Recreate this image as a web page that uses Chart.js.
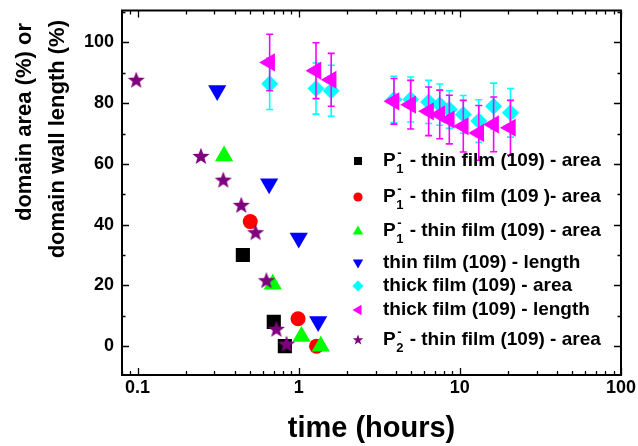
<!DOCTYPE html>
<html>
<head>
<meta charset="utf-8">
<script src="https://cdn.jsdelivr.net/npm/chart.js@4.4.0/dist/chart.umd.min.js"></script>
<style>
    html, body { margin: 0; padding: 0; background: #fff; }
    #wrap { width: 638px; height: 446px; }
</style>
</head>
<body>
<div id="wrap"><canvas id="chart" width="638" height="446"></canvas></div>
<script>
(function () {
    "use strict";

    // data (time in hours, values in %)
    var p1aTime = [0.45, 0.70, 0.82];
    var p1aVal = [30, 8, 0];

    var p1bTime = [0.50, 0.99, 1.29];
    var p1bVal = [41, 9, 0];

    var p1cTime = [0.344, 0.69, 1.04, 1.37];
    var p1cVal = [62.6, 20.4, 3.2, 0];

    var thinLenTime = [0.312, 0.655, 1.0, 1.32];
    var thinLenVal = [84.2, 53.5, 35.6, 8.1];

    var thickTime = [0.66, 1.28, 1.59, 3.9, 4.95, 6.4, 7.5, 8.6, 10.5, 13.1, 16.2, 20.6];
    var thickAreaVal = [86.4, 84.8, 84.1, 81.2, 81.2, 80.4, 79.5, 77.9, 76.3, 74.1, 79, 76.8];
    var thickAreaErr = [8.5, 8.4, 8.4, 7.6, 7.4, 7.1, 6.8, 6.2, 6.2, 7, 7.6, 8];
    var thickLenVal = [93.4, 90.7, 87.7, 80.6, 79.5, 77.3, 76.3, 74.6, 72.4, 70.2, 73, 71.9];
    var thickLenErr = [9.3, 9.2, 8.7, 7.5, 8, 8, 8, 8, 8.5, 9, 9, 9];

    var p2Time = [0.098, 0.247, 0.34, 0.44, 0.54, 0.63, 0.727, 0.84];
    var p2Val = [87.7, 62.6, 54.8, 46.5, 37.5, 21.7, 5.7, 0.8];

    var xTicks = [0.1, 1, 10, 100];
    var yTicks = [0, 20, 40, 60, 80, 100];

    function pts(xs, ys) {
        return xs.map(function (v, i) { return { x: v, y: ys[i] }; });
    }

    function starPath(g, cx, cy, r, ri) {
        g.beginPath();
        for (var k = 0; k < 10; k++) {
            var rr = k % 2 ? ri : r;
            var a = -Math.PI / 2 + k * Math.PI / 5;
            var px = cx + rr * Math.cos(a), py = cy + rr * Math.sin(a);
            if (k === 0) g.moveTo(px, py); else g.lineTo(px, py);
        }
        g.closePath();
    }

    function makeStar(r, color) {
        var c = document.createElement('canvas');
        var s = Math.ceil(r * 2) + 2;
        c.width = s; c.height = s;
        var g = c.getContext('2d');
        starPath(g, s / 2, s / 2 + 0.8, r, r * 0.42);
        g.fillStyle = color;
        g.fill();
        return c;
    }

    var purple = '#7f007f';

    var series = [
        { label: 'area1', data: pts(p1aTime, p1aVal), color: '#000000', style: 'rect', radius: 10, rot: 0 },
        { label: 'area2', data: pts(p1bTime, p1bVal), color: '#ff0000', style: 'circle', radius: 7.5, rot: 0 },
        { label: 'area3', data: pts(p1cTime, p1cVal), color: '#00ff00', style: 'triangle', radius: 10.5, rot: 0 },
        { label: 'thinLen', data: pts(thinLenTime, thinLenVal), color: '#0000ff', style: 'triangle', radius: 10.5, rot: 180 },
        { label: 'thickArea', data: pts(thickTime, thickAreaVal), color: '#00ffff', style: 'rectRot', radius: 8.5, rot: 0, errors: thickAreaErr },
        { label: 'thickLen', data: pts(thickTime, thickLenVal), color: '#ff00ff', style: 'triangle', radius: 10.5, rot: 270, errors: thickLenErr },
        { label: 'p2', data: pts(p2Time, p2Val), color: purple, style: makeStar(9, purple), radius: 9, rot: 0 }
    ];

    var datasets = series.map(function (s, i) {
        return {
            label: s.label,
            data: s.data,
            pointStyle: s.style,
            pointRadius: s.radius,
            pointHoverRadius: s.radius,
            pointRotation: s.rot,
            backgroundColor: s.color,
            borderColor: s.color,
            borderWidth: 0,
            errors: s.errors,
            order: series.length - i
        };
    });

    // legend entries: sub/sup drawn as stacked small text after "P"
    var legendItems = [
        { sub: '1', text: ' - thin film (109) - area', y: 161 },
        { sub: '1', text: ' - thin film (109 )- area', y: 197 },
        { sub: '1', text: ' - thin film (109) - area', y: 231 },
        { text: 'thin film (109) - length', y: 263 },
        { text: 'thick film (109) - area', y: 286 },
        { text: 'thick film (109) - length', y: 310 },
        { sub: '2', text: ' - thin film (109) - area', y: 340 }
    ];

    function legendMarker(g, i, x, y) {
        var c = series[i].color;
        g.fillStyle = c;
        g.beginPath();
        if (i === 0) {
            g.rect(x - 4, y - 4, 8, 8);
        } else if (i === 1) {
            g.arc(x, y, 4.6, 0, Math.PI * 2);
        } else if (i === 2) {
            g.moveTo(x, y - 5.5); g.lineTo(x + 5.2, y + 3.5); g.lineTo(x - 5.2, y + 3.5);
        } else if (i === 3) {
            g.moveTo(x, y + 5.5); g.lineTo(x + 5.2, y - 3.5); g.lineTo(x - 5.2, y - 3.5);
        } else if (i === 4) {
            g.moveTo(x, y - 5.5); g.lineTo(x + 5.5, y); g.lineTo(x, y + 5.5); g.lineTo(x - 5.5, y);
        } else if (i === 5) {
            g.moveTo(x - 5.5, y); g.lineTo(x + 3.5, y - 5.2); g.lineTo(x + 3.5, y + 5.2);
        } else {
            starPath(g, x, y, 5.5, 2.3);
        }
        g.closePath();
        g.fill();
    }

    var errorBars = {
        id: 'errorBars',
        beforeDatasetDraw: function (chart, args) {
            var ds = chart.data.datasets[args.index];
            if (!ds.errors) return;
            var g = chart.ctx, xs = chart.scales.x, ys = chart.scales.y;
            g.save();
            g.strokeStyle = ds.borderColor;
            g.lineWidth = 1.6;
            ds.data.forEach(function (p, i) {
                var px = xs.getPixelForValue(p.x);
                var t = ys.getPixelForValue(p.y + ds.errors[i]);
                var b = ys.getPixelForValue(p.y - ds.errors[i]);
                g.beginPath();
                g.moveTo(px, t); g.lineTo(px, b);
                g.moveTo(px - 3.5, t); g.lineTo(px + 3.5, t);
                g.moveTo(px - 3.5, b); g.lineTo(px + 3.5, b);
                g.stroke();
            });
            g.restore();
        }
    };

    var frameAndExtras = {
        id: 'frameAndExtras',
        afterDraw: function (chart) {
            var g = chart.ctx, a = chart.chartArea;
            var xs = chart.scales.x, ys = chart.scales.y;
            g.save();
            g.strokeStyle = '#000';
            g.lineWidth = 2;
            g.strokeRect(a.left, a.top, a.right - a.left, a.bottom - a.top);

            // inward ticks on all four sides
            g.lineWidth = 1.3;
            g.beginPath();
            for (var e = -2; e <= 2; e++) {
                for (var k = 1; k <= 9; k++) {
                    var v = k * Math.pow(10, e);
                    if (v < xs.min || v > xs.max) continue;
                    var px = Math.round(xs.getPixelForValue(v)) + 0.5;
                    var len = k === 1 ? 7 : 4;
                    g.moveTo(px, a.bottom); g.lineTo(px, a.bottom - len);
                    g.moveTo(px, a.top); g.lineTo(px, a.top + len);
                }
            }
            for (var yv = 0; yv <= 110; yv += 10) {
                var py = Math.round(ys.getPixelForValue(yv)) + 0.5;
                var l2 = yv % 20 === 0 ? 7 : 3.5;
                g.moveTo(a.left, py); g.lineTo(a.left + l2, py);
                g.moveTo(a.right, py); g.lineTo(a.right - l2, py);
            }
            g.stroke();

            // y axis title, two lines
            g.fillStyle = '#000';
            g.font = 'bold 22px "Liberation Sans", Arial, sans-serif';
            g.textAlign = 'right';
            g.textBaseline = 'middle';
            [['domain area (%) or', 25, 23], ['domain wall length (%)', 58, 20]].forEach(function (t) {
                g.save();
                g.translate(t[1], t[2]);
                g.rotate(-Math.PI / 2);
                g.fillText(t[0], 0, 0);
                g.restore();
            });

            // legend
            g.textAlign = 'left';
            legendItems.forEach(function (it, i) {
                legendMarker(g, i, 358, it.y);
                g.fillStyle = '#000';
                var x = 383;
                g.font = 'bold 19px "Liberation Sans", Arial, sans-serif';
                if (it.sub) {
                    g.fillText('P', x, it.y);
                    x += g.measureText('P').width + 0.5;
                    g.font = 'bold 13px "Liberation Sans", Arial, sans-serif';
                    g.fillText('-', x + 1, it.y - 8);
                    g.fillText(it.sub, x, it.y + 8);
                    x += g.measureText(it.sub).width + 1;
                    g.font = 'bold 19px "Liberation Sans", Arial, sans-serif';
                }
                g.fillText(it.text, x, it.y);
            });
            g.restore();
        }
    };

    var ctx = document.getElementById('chart').getContext('2d');
    var myChart = new Chart(ctx, {
        type: 'scatter',
        data: { datasets: datasets },
        options: {
            responsive: false,
            animation: false,
            events: [],
            layout: { padding: { left: 0, right: 17, top: 9, bottom: 0 } },
            plugins: {
                legend: { display: false },
                tooltip: { enabled: false }
            },
            scales: {
                x: {
                    type: 'logarithmic',
                    min: 0.08,
                    max: 100,
                    grid: { display: false, drawTicks: false },
                    border: { display: false },
                    afterBuildTicks: function (s) {
                        s.ticks = xTicks.map(function (v) { return { value: v }; });
                    },
                    afterFit: function (s) {
                        s.height = 71;
                        s.paddingLeft = 0;
                        s.paddingRight = 0;
                    },
                    ticks: {
                        autoSkip: false,
                        maxRotation: 0,
                        padding: 2,
                        color: '#000',
                        font: { family: '"Liberation Sans", Arial, sans-serif', size: 18, weight: 'bold' },
                        callback: function (v) { return String(v); }
                    },
                    title: {
                        display: true,
                        text: 'time (hours)',
                        color: '#000',
                        padding: { top: 0, bottom: 0 },
                        font: { family: '"Liberation Sans", Arial, sans-serif', size: 29, weight: 'bold' }
                    }
                },
                y: {
                    min: -9.5,
                    max: 110.5,
                    grid: { display: false, drawTicks: false },
                    border: { display: false },
                    afterBuildTicks: function (s) {
                        s.ticks = yTicks.map(function (v) { return { value: v }; });
                    },
                    afterFit: function (s) {
                        s.width = 122;
                        s.paddingTop = 0;
                        s.paddingBottom = 0;
                    },
                    ticks: {
                        padding: 8,
                        color: '#000',
                        font: { family: '"Liberation Sans", Arial, sans-serif', size: 18, weight: 'bold' }
                    }
                }
            }
        },
        plugins: [errorBars, frameAndExtras]
    });
})();
</script>
</body>
</html>
